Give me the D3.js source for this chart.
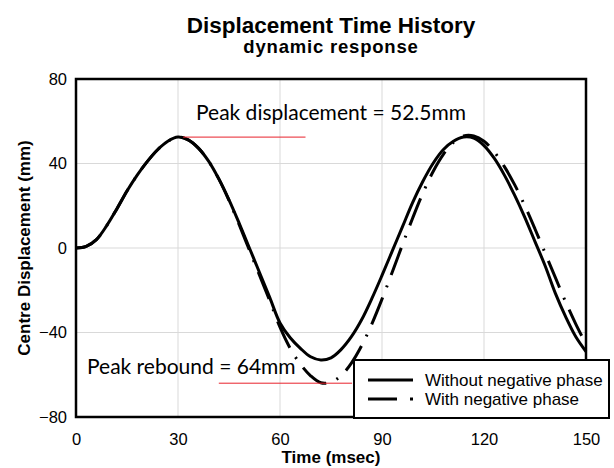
<!DOCTYPE html>
<html>
<head>
<meta charset="utf-8">
<script src="https://cdn.jsdelivr.net/npm/d3@7"></script>
<style>
  body { margin: 0; background: #fff; }
  svg { display: block; font-family: "Liberation Sans", Arial, sans-serif; }
</style>
</head>
<body>
<svg id="chart" width="614" height="468"></svg>
<script>
// time (msec)
const times = [0, 3, 6, 9, 12, 15, 18, 21, 24, 27, 30, 33, 36, 39, 42, 45, 48, 51, 54, 57,
  60, 63, 66, 69, 72, 75, 78, 81, 84, 87, 90, 93, 96, 99, 102, 105, 108, 111, 114, 117,
  120, 123, 126, 129, 132, 135, 138, 141, 144, 147, 150];

// centre displacement (mm)
const withoutNegative = [0, 0.8, 4, 10.5, 18.5, 27, 34.5, 41, 46.5, 50.5, 52.5, 51.2, 47.3, 41.1, 32.7, 22.8, 11.7, 0, -11.7, -23.5,
  -35.5, -42.5, -47.5, -51.5, -53, -52, -48, -42, -34, -24, -13, -1.5, 10, 21.5, 31.5, 40, 46.5, 50.5, 52.5, 52,
  48.5, 42.5, 34.5, 25, 14.5, 3, -8.5, -21.5, -32.5, -42, -49];

const withNegative = [0, 0.8, 4, 10.5, 18.5, 27, 34.5, 41, 46.5, 50.5, 52.5, 51.2, 47.3, 41.1, 32.7, 22.5, 11, -1, -13, -25,
  -37.5, -47.5, -55, -60.5, -63.8, -63.5, -60.4, -54.5, -46.3, -36, -24.2, -11.5, 1.5, 14.1, 25.9, 36.1, 44.2, 50, 53, 53,
  50.5, 45.5, 38.5, 30, 20, 9, -2.5, -14, -25.5, -36, -45.5];

const xTicks = [0, 30, 60, 90, 120, 150];
const yTicks = [-80, -40, 0, 40, 80];

const seriesNames = ['Without negative phase', 'With negative phase'];

// peak annotations: [tStart, tEnd, value]
const peakDisp = [31.5, 67.5, 52.5];
const peakRebound = [42, 81.2, -64];

const margin = {top: 79, right: 28, bottom: 51, left: 76};
const width = 614 - margin.left - margin.right;
const height = 468 - margin.top - margin.bottom;

const svg = d3.select('#chart');
const g = svg.append('g').attr('transform', `translate(${margin.left},${margin.top})`);

const x = d3.scaleLinear().domain([0, 150]).range([0, width]);
const y = d3.scaleLinear().domain([-80, 80]).range([height, 0]);

// grid
g.append('g')
  .selectAll('line.vg')
  .data(xTicks.slice(1, -1))
  .join('line')
    .attr('x1', d => x(d)).attr('x2', d => x(d))
    .attr('y1', 0).attr('y2', height)
    .attr('stroke', '#d9d9d9').attr('stroke-width', 1);

g.append('g')
  .selectAll('line.hg')
  .data(yTicks.slice(1, -1))
  .join('line')
    .attr('y1', d => y(d)).attr('y2', d => y(d))
    .attr('x1', 0).attr('x2', width)
    .attr('stroke', '#d9d9d9').attr('stroke-width', 1);

// axes (labels only)
const xAxis = d3.axisBottom(x).tickValues(xTicks).tickSize(0).tickPadding(16);
const yAxis = d3.axisLeft(y).tickValues(yTicks).tickSize(0).tickPadding(9);

g.append('g')
  .attr('transform', `translate(0,${height})`)
  .call(xAxis)
  .call(a => a.select('.domain').remove())
  .selectAll('text')
    .attr('font-size', 16.5).attr('fill', '#000')
    .attr('font-family', '"Liberation Sans", Arial, sans-serif');

g.append('g')
  .call(yAxis)
  .call(a => a.select('.domain').remove())
  .selectAll('text')
    .attr('font-size', 16.5).attr('fill', '#000')
    .attr('font-family', '"Liberation Sans", Arial, sans-serif');

// lines
const line = vals => d3.line()
  .x((d, i) => x(times[i]))
  .y(d => y(d))
  .curve(d3.curveCatmullRom)(vals);

g.append('path')
  .attr('d', line(withoutNegative))
  .attr('fill', 'none').attr('stroke', '#000').attr('stroke-width', 3);

g.append('path')
  .attr('d', line(withNegative))
  .attr('fill', 'none').attr('stroke', '#000').attr('stroke-width', 3)
  .attr('stroke-dasharray', '29,11,2,11');

// red peak markers
[peakDisp, peakRebound].forEach(p => {
  g.append('line')
    .attr('x1', x(p[0])).attr('x2', x(p[1]))
    .attr('y1', y(p[2])).attr('y2', y(p[2]))
    .attr('stroke', '#e8202a').attr('stroke-width', 1);
});

g.append('text')
  .attr('x', 120).attr('y', 41)
  .attr('font-family', 'Lato, sans-serif').attr('font-size', 21)
  .text('Peak displacement = 52.5mm');

g.append('text')
  .attr('x', 11).attr('y', 295)
  .attr('font-family', 'Lato, sans-serif').attr('font-size', 21)
  .text('Peak rebound = 64mm');

// frame
g.append('rect')
  .attr('width', width).attr('height', height)
  .attr('fill', 'none').attr('stroke', '#000').attr('stroke-width', 2.5);

// legend
const legend = svg.append('g').attr('transform', 'translate(354,360)');
legend.append('rect')
  .attr('width', 255).attr('height', 58)
  .attr('fill', '#fff').attr('stroke', '#000').attr('stroke-width', 2);

seriesNames.forEach((name, i) => {
  const ly = 20 + i * 19;
  legend.append('line')
    .attr('x1', 14).attr('x2', 59)
    .attr('y1', ly).attr('y2', ly)
    .attr('stroke', '#000').attr('stroke-width', 3)
    .attr('stroke-dasharray', i === 0 ? null : '29,13,3,13');
  legend.append('text')
    .attr('x', 71).attr('y', ly + 6)
    .attr('font-size', 17)
    .text(name);
});

// titles
svg.append('text')
  .attr('x', margin.left + width / 2).attr('y', 33)
  .attr('text-anchor', 'middle').attr('font-weight', 'bold').attr('font-size', 22.5)
  .text('Displacement Time History');

svg.append('text')
  .attr('x', margin.left + width / 2).attr('y', 53)
  .attr('text-anchor', 'middle').attr('font-weight', 'bold').attr('font-size', 18.5)
  .attr('letter-spacing', 0.8)
  .text('dynamic response');

svg.append('text')
  .attr('x', margin.left + width / 2).attr('y', 463)
  .attr('text-anchor', 'middle').attr('font-weight', 'bold').attr('font-size', 17)
  .text('Time (msec)');

svg.append('text')
  .attr('transform', `translate(30,${margin.top + height / 2}) rotate(-90)`)
  .attr('text-anchor', 'middle').attr('font-weight', 'bold').attr('font-size', 17)
  .text('Centre Displacement (mm)');
</script>
</body>
</html>
